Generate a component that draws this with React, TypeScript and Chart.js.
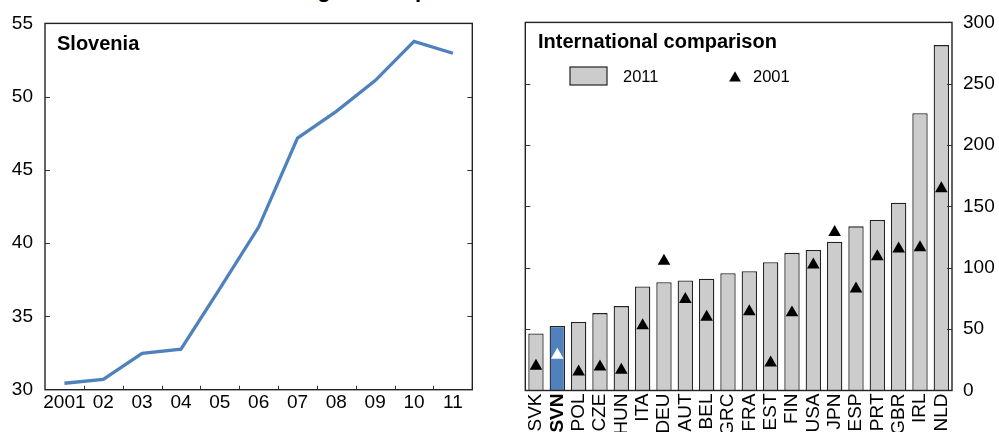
import React, { useEffect, useRef } from 'react';
import { Chart, registerables } from 'chart.js';

Chart.register(...registerables);

const FONT = "Arial, 'Liberation Sans', Helvetica, sans-serif";

// Left panel: Slovenia
const years = ['2001', '02', '03', '04', '05', '06', '07', '08', '09', '10', '11'];
const slovenia = [30.44, 30.71, 32.48, 32.77, 36.9, 41.1, 47.17, 49.0, 51.1, 53.77, 52.96];
const leftMin = 30;
const leftMax = 55;
const leftStep = 5;

// Right panel: international comparison
const countries = ['SVK', 'SVN', 'POL', 'CZE', 'HUN', 'ITA', 'DEU', 'AUT', 'BEL', 'GRC', 'FRA', 'EST', 'FIN', 'USA', 'JPN', 'ESP', 'PRT', 'GBR', 'IRL', 'NLD'];
const value2011 = [46.4, 52.6, 55.8, 63.1, 68.8, 84.8, 88.3, 89.7, 91.1, 95.6, 97.2, 104.5, 112.2, 114.6, 121.3, 133.8, 139.0, 153.0, 226.0, 281.5];
const value2001 = [19.9, 28.8, 15.3, 19.3, 16.6, 52.9, 105.4, 74.3, 59.9, null, 64.3, 22.6, 63.4, 102.4, 128.9, 82.9, 109.2, 115.4, 116.5, 164.6];
const rightMin = 0;
const rightMax = 300;
const rightStep = 50;
const highlight = 'SVN';
const legendLabels = ['2011', '2001'];

const TITLE = 'Household debt to gross disposable income';

const BLUE = '#4f81bd';
const GREY = '#cccccc';
const EDGE = '#222222';

function framePlugin(opts: any) {
  return {
    id: 'frame_' + opts.name,
    afterDraw(chart: any) {
      const { ctx, chartArea: a } = chart;
      ctx.save();
      // inward tick marks on y
      const ys = chart.scales.y;
      ctx.strokeStyle = '#333';
      ctx.lineWidth = 1;
      ys.ticks.forEach((t: any) => {
        const py = Math.round(ys.getPixelForValue(t.value)) + 0.5;
        if (py <= a.top + 2 || py >= a.bottom - 2) return;
        ctx.beginPath();
        ctx.moveTo(a.left, py);
        ctx.lineTo(a.left + 5, py);
        ctx.moveTo(a.right, py);
        ctx.lineTo(a.right - 5, py);
        ctx.stroke();
      });
      if (opts.xTicks) {
        const xs = chart.scales.x;
        const n = xs.getLabels().length;
        for (let i = 1; i < n; i++) {
          const px = Math.round((xs.getPixelForValue(i - 1) + xs.getPixelForValue(i)) / 2) + 0.5;
          ctx.beginPath();
          ctx.moveTo(px, a.bottom);
          ctx.lineTo(px, a.bottom - 4);
          ctx.stroke();
        }
      }
      // frame
      ctx.strokeStyle = EDGE;
      ctx.lineWidth = 1.4;
      ctx.strokeRect(a.left, a.top, a.right - a.left, a.bottom - a.top);
      // panel title
      ctx.fillStyle = '#000';
      ctx.font = `bold ${opts.titleSize}px ${FONT}`;
      ctx.textBaseline = 'alphabetic';
      ctx.textAlign = 'left';
      ctx.fillText(opts.title, opts.titleX, opts.titleY);
      // legend
      if (opts.legend) {
        const lx = 70;
        const ly = 67;
        ctx.fillStyle = GREY;
        ctx.fillRect(lx, ly, 37, 18);
        ctx.strokeStyle = EDGE;
        ctx.lineWidth = 1.2;
        ctx.strokeRect(lx, ly, 37, 18);
        ctx.fillStyle = '#000';
        ctx.font = `16.5px ${FONT}`;
        ctx.textBaseline = 'middle';
        ctx.fillText(legendLabels[0], 123, 77);
        // triangle symbol
        const cx = 235;
        const cy = 78;
        const r = 6.8;
        ctx.beginPath();
        ctx.moveTo(cx, cy - r);
        ctx.lineTo(cx + r * 0.866, cy + r / 2);
        ctx.lineTo(cx - r * 0.866, cy + r / 2);
        ctx.closePath();
        ctx.fill();
        ctx.fillText(legendLabels[1], 253, 77);
      }
      ctx.restore();
    },
  };
}

function LeftChart() {
  const ref = useRef<HTMLCanvasElement>(null);
  useEffect(() => {
    const chart = new Chart(ref.current as HTMLCanvasElement, {
      type: 'line',
      data: {
        labels: years,
        datasets: [
          {
            data: slovenia,
            borderColor: BLUE,
            borderWidth: 3.3,
            pointRadius: 0,
            tension: 0,
            fill: false,
          },
        ],
      },
      options: {
        responsive: false,
        animation: false,
        devicePixelRatio: 1,
        layout: { padding: { left: 0, top: 22.7, right: 27.7, bottom: 0 } },
        plugins: { legend: { display: false }, tooltip: { enabled: false } },
        scales: {
          x: {
            type: 'category',
            offset: true,
            grid: { display: false, drawTicks: false },
            border: { display: false },
            ticks: { color: '#000', font: { family: FONT, size: 19 }, padding: 2, maxRotation: 0, autoSkip: false },
            afterFit: (s: any) => { s.height = 42.3; },
          },
          y: {
            min: leftMin,
            max: leftMax,
            grid: { display: false, drawTicks: false },
            border: { display: false },
            ticks: { stepSize: leftStep, color: '#000', font: { family: FONT, size: 19 }, padding: 12 },
            afterFit: (s: any) => { s.width = 45; },
          },
        },
      },
      plugins: [framePlugin({ name: 'l', title: 'Slovenia', titleX: 57, titleY: 50, titleSize: 20, xTicks: true })],
    } as any);
    return () => chart.destroy();
  }, []);
  return <canvas ref={ref} width={500} height={432} style={{ position: 'absolute', left: 0, top: 0, width: 500, height: 432 }} />;
}

function RightChart() {
  const ref = useRef<HTMLCanvasElement>(null);
  useEffect(() => {
    const chart = new Chart(ref.current as HTMLCanvasElement, {
      type: 'bar',
      data: {
        labels: countries,
        datasets: [
          {
            type: 'line',
            label: legendLabels[1],
            data: value2001,
            showLine: false,
            pointStyle: 'triangle',
            pointRadius: 7.3,
            pointBorderWidth: 0,
            pointBackgroundColor: countries.map((c) => (c === highlight ? '#ffffff' : '#000000')),
            pointBorderColor: 'rgba(0,0,0,0)',
            order: 0,
          },
          {
            type: 'bar',
            label: legendLabels[0],
            data: value2011,
            backgroundColor: countries.map((c) => (c === highlight ? BLUE : GREY)),
            borderColor: EDGE,
            borderWidth: 1.3,
            barPercentage: 0.72,
            categoryPercentage: 1,
            order: 1,
          },
        ],
      },
      options: {
        responsive: false,
        animation: false,
        devicePixelRatio: 1,
        layout: { padding: { left: 25.3, top: 21.7, right: 0, bottom: 0 } },
        plugins: { legend: { display: false }, tooltip: { enabled: false } },
        scales: {
          x: {
            type: 'category',
            offset: true,
            grid: { display: false, drawTicks: false },
            border: { display: false },
            ticks: {
              color: '#000',
              autoSkip: false,
              minRotation: 90,
              maxRotation: 90,
              padding: 3,
              font: (ctx: any) => ({
                family: FONT,
                size: 19,
                weight: countries[ctx.index] === highlight ? 'bold' : 'normal',
              }),
            },
            afterFit: (s: any) => { s.height = 41.5; },
          },
          y: {
            position: 'right',
            min: rightMin,
            max: rightMax,
            grid: { display: false, drawTicks: false },
            border: { display: false },
            ticks: { stepSize: rightStep, color: '#000', font: { family: FONT, size: 19 }, padding: 11 },
            afterFit: (s: any) => { s.width = 47; },
          },
        },
      },
      plugins: [framePlugin({ name: 'r', title: 'International comparison', titleX: 38, titleY: 48, titleSize: 20, legend: true })],
    } as any);
    return () => chart.destroy();
  }, []);
  return <canvas ref={ref} width={499} height={432} style={{ position: 'absolute', left: 500, top: 0, width: 499, height: 432 }} />;
}

export default function App() {
  return (
    <div style={{ position: 'fixed', left: 0, top: 0, width: 999, height: 432, background: '#fff', overflow: 'hidden' }}>
      <div
        style={{
          position: 'absolute',
          left: 118,
          top: -21,
          font: `bold 22px ${FONT}`,
          lineHeight: '22px',
          whiteSpace: 'nowrap',
          color: '#000',
        }}
      >
        {TITLE}
      </div>
      <LeftChart />
      <RightChart />
    </div>
  );
}
